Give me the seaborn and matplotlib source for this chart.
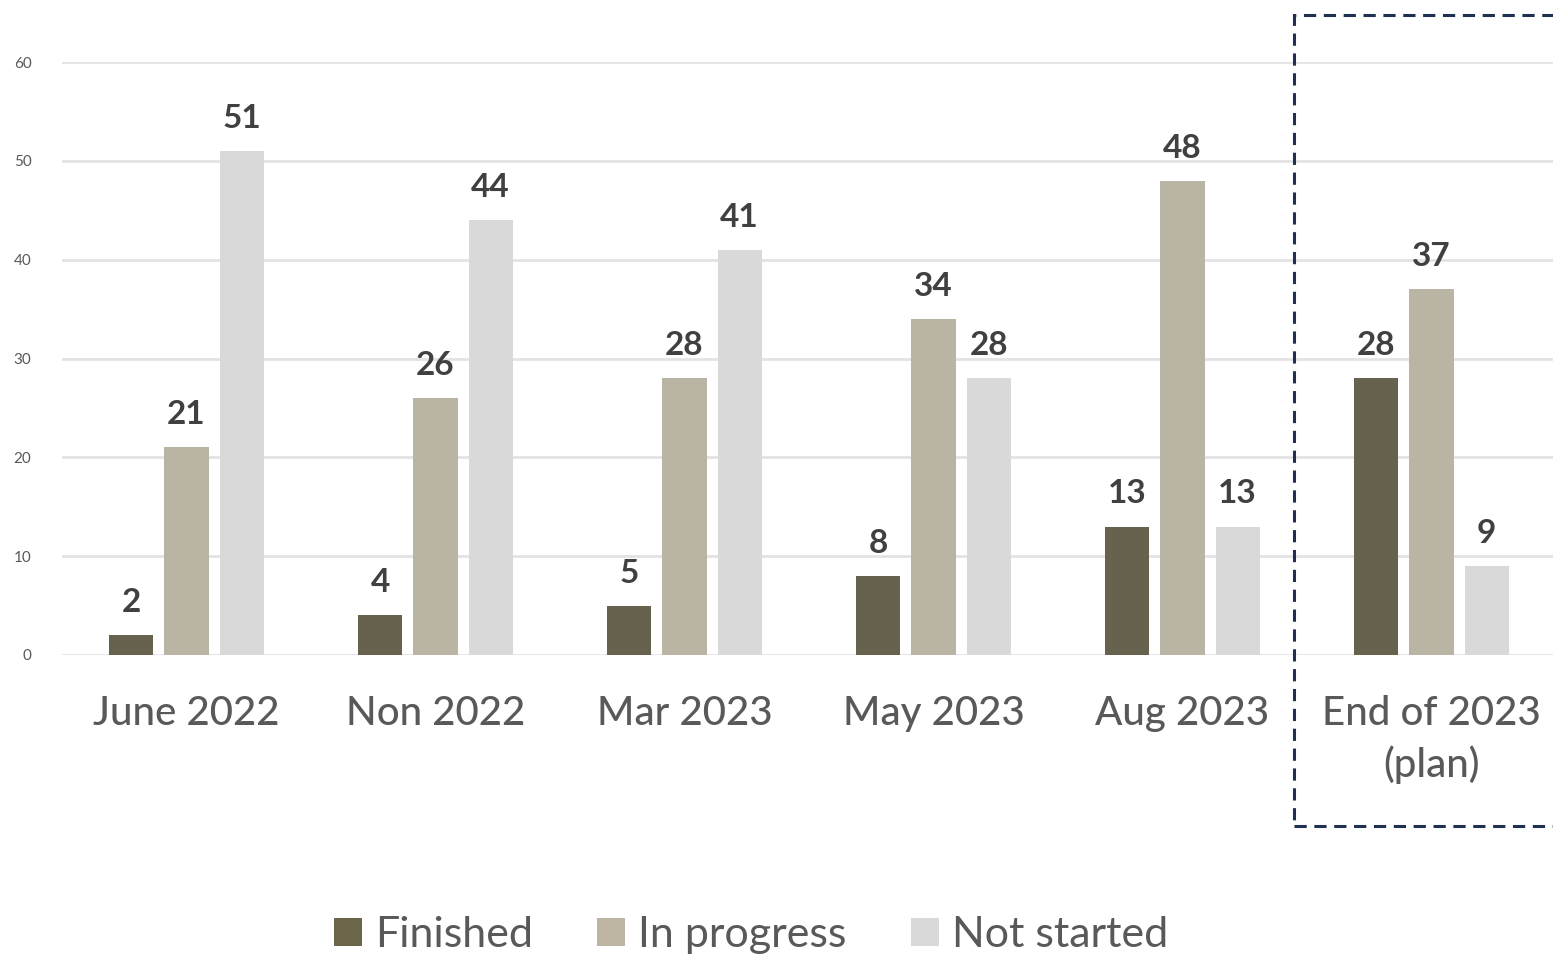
import matplotlib
matplotlib.use("Agg")
import matplotlib.pyplot as plt
import seaborn as sns
import pandas as pd
from matplotlib.patches import Rectangle, Patch

categories = ["June 2022", "Non 2022", "Mar 2023", "May 2023", "Aug 2023", "End of 2023\n(plan)"]
finished = [2, 4, 5, 8, 13, 28]
in_progress = [21, 26, 28, 34, 48, 37]
not_started = [51, 44, 41, 28, 13, 9]
series_names = ["Finished", "In progress", "Not started"]
colors = ["#6b6549", "#bdb5a2", "#d9d9d9"]
yticks = [0, 10, 20, 30, 40, 50, 60]

rows = []
for name, vals in zip(series_names, [finished, in_progress, not_started]):
    for c, v in zip(categories, vals):
        rows.append({"cat": c, "series": name, "value": v})
df = pd.DataFrame(rows)

sns.set_theme(style="white")
plt.rcParams["font.family"] = ["Lato", "DejaVu Sans"]

fig = plt.figure(figsize=(15.53, 9.61), dpi=100)
ax = fig.add_axes([62 / 1553, 1 - 655 / 961, 1494 / 1553, (655 - 62) / 961])

sns.barplot(data=df, x="cat", y="value", hue="series", order=categories,
            hue_order=series_names, palette=colors, width=0.663, gap=0.2,
            linewidth=0, ax=ax, legend=False)

ax.set_xlim(-0.5, len(categories) - 0.5)
ax.set_ylim(0, 60)
ax.set_yticks(yticks)
ax.set_yticklabels([str(t) for t in yticks])
ax.yaxis.grid(True, color="#e3e3e3", linewidth=2)
ax.set_axisbelow(True)
for s in ax.spines.values():
    s.set_visible(False)
ax.set_xlabel("")
ax.set_ylabel("")
ax.tick_params(axis="y", length=0, pad=22, labelsize=11, labelcolor="#595959")
ax.tick_params(axis="x", length=0, pad=29, labelsize=29, labelcolor="#595959")
for lbl in ax.get_xticklabels():
    lbl.set_linespacing(1.4)
    lbl.set_fontweight("medium")

for cont in ax.containers:
    ax.bar_label(cont, labels=[f"{int(v)}" for v in cont.datavalues], padding=13,
                 fontsize=24, fontweight="bold", color="#404040", clip_on=False)

handles = [Patch(facecolor=c, edgecolor="none") for c in colors]
fig.legend(handles, series_names, loc="center", bbox_to_anchor=(751 / 1553, 1 - 935 / 961),
           ncol=3, frameon=False, fontsize=31, labelcolor="#595959",
           handlelength=0.65, handleheight=0.65, handletextpad=0.3, columnspacing=1.5)

rect = Rectangle((1294 / 1553, 1 - 826 / 961), 0.3, (826 - 15) / 961,
                 transform=fig.transFigure, fill=False, edgecolor="#1f3050",
                 linewidth=2.2, linestyle=(0, (4, 2.5)), clip_on=False)
fig.add_artist(rect)

fig.savefig("out.png", dpi=100)
